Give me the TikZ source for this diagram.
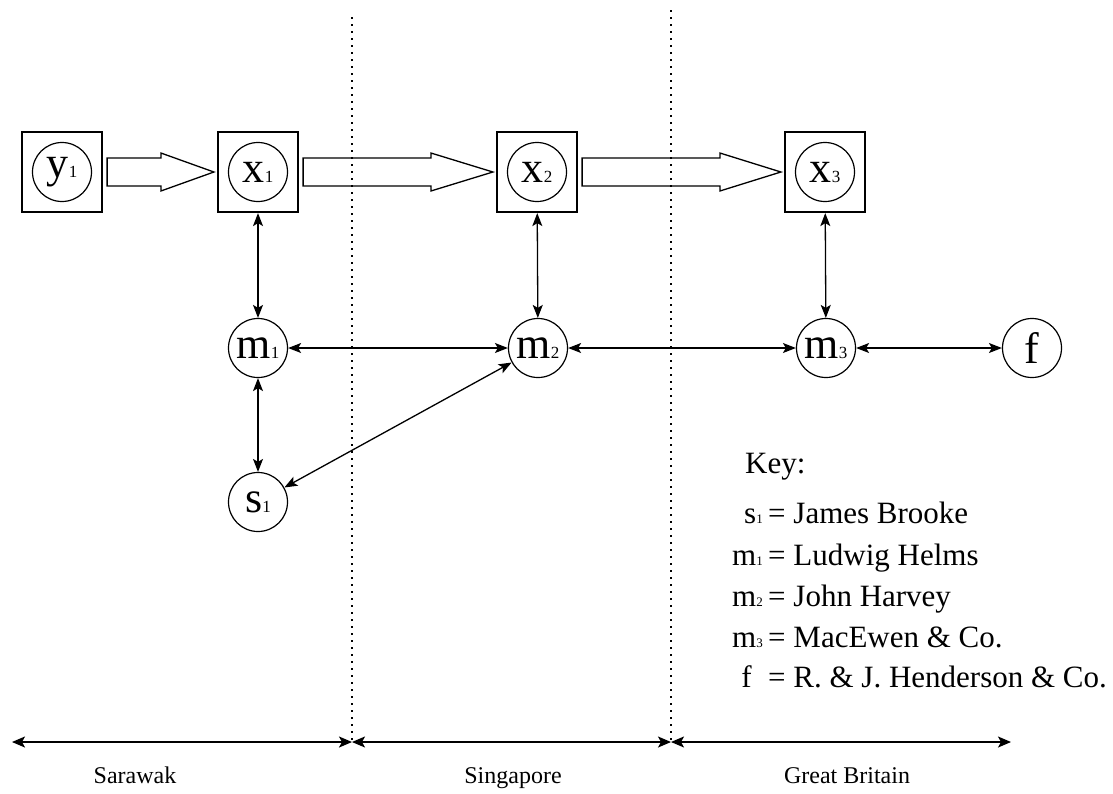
\documentclass[tikz,border=0pt]{standalone}
\usepackage{fontspec}
\setmainfont{Liberation Serif}
\usetikzlibrary{arrows.meta,calc}

\newcommand{\sub}[2]{#1{\fontsize{17}{17}\selectfont #2}}
\newcommand{\keysub}[2]{#1{\fontsize{13}{13}\selectfont #2}}
% hollow block arrow between two boxes, #3 = head length
\newcommand{\blockarrow}[3]{%
  \draw[blockline] let \p1=(#1.east), \p2=(#2.west) in
    (\x1+4pt,\y1+14pt) -- (\x2-3pt-#3pt,\y1+14pt) -- (\x2-3pt-#3pt,\y1+19pt)
    -- (\x2-3pt,\y1) -- (\x2-3pt-#3pt,\y1-19pt) -- (\x2-3pt-#3pt,\y1-14pt)
    -- (\x1+4pt,\y1-14pt) -- cycle;}

\begin{document}
\begin{tikzpicture}[x=1pt,y=-1pt,
    box/.style={draw,line width=2.2pt,minimum size=80pt,inner sep=0pt},
    actor/.style={circle,draw,line width=1.2pt,minimum size=59pt,inner sep=0pt,
                  font=\fontsize{44}{44}\selectfont},
    blockline/.style={line width=1.3pt,line join=miter},
    link/.style={{Stealth[length=13pt,width=10pt,inset=3pt]}-{Stealth[length=13pt,width=10pt,inset=3pt]},
                 line width=1.3pt},
    region/.style={{Stealth[length=13pt,width=11pt,inset=3pt]}-{Stealth[length=13pt,width=11pt,inset=3pt]},
                   line width=1.6pt},
    border/.style={line width=1.6pt,dash pattern=on 1.6pt off 5.4pt},
    place/.style={font=\fontsize{24}{24}\selectfont,anchor=base},
    keytext/.style={font=\fontsize{31}{31}\selectfont,inner sep=0pt}]

  \useasboundingbox (0,0) rectangle (1113,793);

  % boxed goods
  \node[box]   (by1) at (62,172)  {};
  \node[actor] (y1)  at (by1)     {\sub{y}{1}};
  \node[box]   (bx1) at (258,172) {};
  \node[actor] (x1)  at (bx1)     {\sub{x}{1}};
  \node[box]   (bx2) at (537,172) {};
  \node[actor] (x2)  at (bx2)     {\sub{x}{2}};
  \node[box]   (bx3) at (825,172) {};
  \node[actor] (x3)  at (bx3)     {\sub{x}{3}};

  % actors
  \node[actor] (m1) at (258,348)  {\sub{m}{1}};
  \node[actor] (m2) at (538,348)  {\sub{m}{2}};
  \node[actor] (m3) at (826,348)  {\sub{m}{3}};
  \node[actor] (f)  at (1032,348) {f};
  \node[actor] (s1) at (258,502)  {\sub{s}{1}};

  \blockarrow{by1}{bx1}{53}
  \blockarrow{bx1}{bx2}{62}
  \blockarrow{bx2}{bx3}{61}

  \draw[link] (bx1) -- (m1);
  \draw[link] (bx2) -- (m2);
  \draw[link] (bx3) -- (m3);
  \draw[link] (m1) -- (m2);
  \draw[link] (m2) -- (m3);
  \draw[link] (m3) -- (f);
  \draw[link] (m1) -- (s1);
  \draw[link] (s1) -- (m2);

  % borders and regions
  \coordinate (sbtop) at (352,17);
  \coordinate (gbtop) at (671,10);
  \coordinate (west)  at (12,742);
  \coordinate (sb)    at (352,742);
  \coordinate (gb)    at (671,742);
  \coordinate (east)  at (1011,742);
  \draw[border] (sbtop) -- (sb);
  \draw[border] (gbtop) -- (gb);
  \draw[region] (west) -- (sb);
  \draw[region] (sb) -- (gb);
  \draw[region] (gb) -- (east);

  \node[place] (sarawak)   at (135,783) {Sarawak};
  \node[place] (singapore) at (513,783) {Singapore};
  \node[place] (britain)   at (847,783) {Great Britain};

  % key
  \node[keytext,anchor=base west] (key) at (745,473) {Key:};
  \node[keytext,anchor=base east] (ks1) at (763,523) {\keysub{s}{1}};
  \node[keytext,anchor=base west] (vs1) at (768,523) {= James Brooke};
  \node[keytext,anchor=base east] (km1) at (763,565) {\keysub{m}{1}};
  \node[keytext,anchor=base west] (vm1) at (768,565) {= Ludwig Helms};
  \node[keytext,anchor=base east] (km2) at (763,606) {\keysub{m}{2}};
  \node[keytext,anchor=base west] (vm2) at (768,606) {= John Harvey};
  \node[keytext,anchor=base east] (km3) at (763,647) {\keysub{m}{3}};
  \node[keytext,anchor=base west] (vm3) at (768,647) {= MacEwen \& Co.};
  \node[keytext,anchor=base east] (kf)  at (752,687) {f};
  \node[keytext,anchor=base west] (vf)  at (768,687) {= R. \& J. Henderson \& Co.};
\end{tikzpicture}
\end{document}
